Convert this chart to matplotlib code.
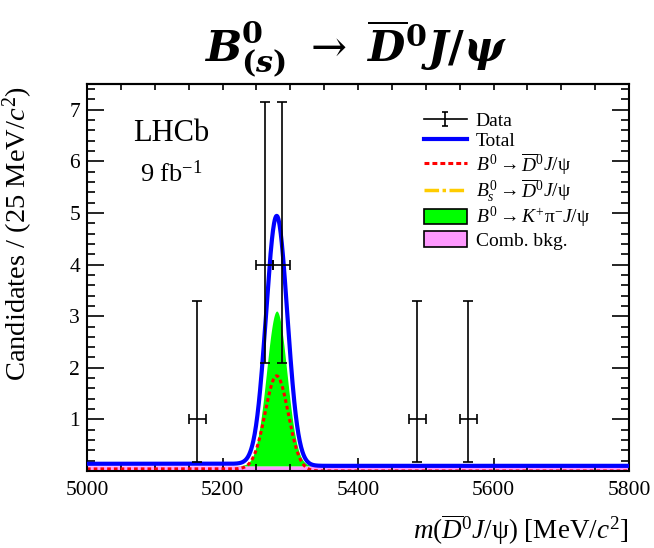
import numpy as np
import matplotlib
matplotlib.use("Agg")
import matplotlib.pyplot as plt
from matplotlib.lines import Line2D
from matplotlib.patches import Patch
from matplotlib.path import Path
from matplotlib.legend_handler import HandlerTuple
from matplotlib.ticker import MultipleLocator, FixedLocator

plt.rcParams["font.family"] = ["Liberation Serif", "DejaVu Serif"]
plt.rcParams["mathtext.fontset"] = "custom"
plt.rcParams["mathtext.rm"] = "Liberation Serif"
plt.rcParams["mathtext.it"] = "Liberation Serif:italic"
plt.rcParams["mathtext.bf"] = "Liberation Serif:bold"

# ---- binned data (25 MeV bins), only non-empty bins are drawn ----
bin_centers = [5162.5, 5262.5, 5287.5, 5487.5, 5562.5]
counts = [1, 4, 4, 1, 1]
err_low = [0.83, 1.91, 1.91, 0.83, 0.83]
err_high = [2.30, 3.16, 3.16, 2.30, 2.30]
bin_half_width = 12.5

# ---- fit model components ----
peak_mass = 5280.0
sig_height = 1.84       # B0 -> D0bar J/psi
sig_sigma = 17.0
sig_tail = 0.04         # low-mass tail of the B0 shape
bs_height = 0.0         # Bs0 -> D0bar J/psi
kpi_height = 3.0        # B0 -> K+ pi- J/psi
kpi_sigma = 15.0
comb_level = 0.10       # combinatorial background

mass = np.linspace(5000, 5800, 1601)


def gauss(x, h, mu, s):
    return h * np.exp(-0.5 * ((x - mu) / s) ** 2)


sig_curve = gauss(mass, sig_height, peak_mass, sig_sigma) + sig_tail / (1 + np.exp((mass - 5262) / 8))
bs_curve = gauss(mass, bs_height, 5366.9, sig_sigma)
kpi_curve = gauss(mass, kpi_height, peak_mass, kpi_sigma)
comb_curve = np.full_like(mass, comb_level)
total_curve = comb_curve + kpi_curve + sig_curve + bs_curve

W, H = 654, 548
fig = plt.figure(figsize=(W / 100, H / 100), dpi=100)
ax = fig.add_axes([87 / W, 1 - 471 / H, (629 - 87) / W, (471 - 84) / H])

c_pink = "#ff99ff"
c_green = "#00ff00"
c_blue = "#0000ff"
c_red = "#ff0000"
c_yellow = "#ffcc00"

ax.fill_between(mass, 0, comb_curve, color=c_pink, lw=0, zorder=1)
ax.fill_between(mass, comb_curve, comb_curve + kpi_curve, color=c_green, lw=0, zorder=1)
ax.plot(mass, bs_curve, color=c_yellow, lw=2.5, dashes=(4, 1, 1, 1), zorder=0.5)
ax.plot(mass, sig_curve, color=c_red, lw=2.2, dashes=(1.2, 1.0), zorder=2)
ax.plot(mass, total_curve, color=c_blue, lw=3.0, zorder=3)

ax.errorbar(bin_centers, counts, yerr=[err_low, err_high],
            xerr=bin_half_width, fmt="none", ecolor="black",
            elinewidth=1.2, capsize=3.5, capthick=1.2, zorder=5)

ax.set_xlim(5000, 5800)
ax.set_ylim(0, 7.5)

ax.xaxis.set_major_locator(MultipleLocator(200))
ax.xaxis.set_minor_locator(MultipleLocator(50))
ax.yaxis.set_major_locator(FixedLocator([1, 2, 3, 4, 5, 6, 7]))
ax.yaxis.set_minor_locator(MultipleLocator(0.2))

ax.tick_params(axis="both", which="both", direction="in", width=1.2,
               labelsize=15.5, colors="black")
ax.tick_params(axis="y", which="major", length=12, right=True, pad=5)
ax.tick_params(axis="y", which="minor", length=6, right=True)
ax.tick_params(axis="x", which="major", length=9.5, pad=7)
ax.tick_params(axis="x", which="minor", length=5)

top = ax.secondary_xaxis("top")
top.xaxis.set_major_locator(MultipleLocator(50))
top.tick_params(direction="in", length=4, width=1.2, labeltop=False)
top.spines["top"].set_linewidth(1.5)

for sp in ax.spines.values():
    sp.set_linewidth(1.5)

# experiment label
fig.text(171 / W, 1 - 141.5 / H, "LHCb", fontsize=22, ha="center", va="baseline")
fig.text(171 / W, 1 - 181.5 / H, r"9 fb$^{\mathrm{-1}}$", fontsize=19, ha="center", va="baseline")

# axis titles
fig.text(0.5 / W, 1 - 86 / H, r"Candidates / (25 MeV/$c^2$)", rotation=90,
         fontsize=20.5, ha="left", va="top")
fig.text(629 / W, 1 - 539 / H, r"$m(\overline{D}^0 J/\mathrm{\psi})$ [MeV/$c^2$]",
         fontsize=19.5, ha="right", va="baseline")

# decay title
title = fig.text(356 / W, 1 - 62 / H,
                 r"$\mathbfit{B}^{\mathbf{0}}_{\mathbf{(}\mathbfit{s}\mathbf{)}}\ \rightarrow\ "
                 r"\overline{\mathbfit{D}}^{\mathbf{0}}\mathbfit{J}\mathbf{/}\mathbfit{\psi}$",
                 fontsize=31, ha="center", va="baseline")
title.set_math_fontfamily("dejavuserif")

# legend handle for data points: horizontal bar with a capped vertical bar
ibeam = Path([(-0.4, 1), (0.4, 1), (0, 1), (0, -1), (-0.4, -1), (0.4, -1)],
             [Path.MOVETO, Path.LINETO, Path.MOVETO, Path.LINETO, Path.MOVETO, Path.LINETO])
data_handle = (Line2D([], [], color="black", lw=1.2),
               Line2D([], [], ls="none", marker=ibeam, markersize=10,
                      markeredgecolor="black", markeredgewidth=1.2))

handles = [
    data_handle,
    Line2D([], [], color=c_blue, lw=3.0),
    Line2D([], [], color=c_red, lw=2.2, dashes=(1.6, 1.0)),
    Line2D([], [], color=c_yellow, lw=2.5, dashes=(4.2, 1.0, 1.0, 1.0)),
    Patch(facecolor=c_green, edgecolor="black", lw=1.2),
    Patch(facecolor=c_pink, edgecolor="black", lw=1.2),
]
labels = [
    "Data",
    "Total",
    r"$B^0 \rightarrow \overline{D}^0 J/\mathrm{\psi}$",
    r"$B^0_s \rightarrow \overline{D}^0 J/\mathrm{\psi}$",
    r"$B^0 \rightarrow K^{+}\mathrm{\pi}^{-} J/\mathrm{\psi}$",
    "Comb. bkg.",
]
ax.legend(handles, labels, loc="upper left", bbox_to_anchor=(424 / W, 1 - 112 / H),
          bbox_transform=fig.transFigure, frameon=False, fontsize=14,
          handlelength=2.2, handleheight=0.85, handletextpad=0.45,
          labelspacing=0.05, borderpad=0, borderaxespad=0, numpoints=1,
          handler_map={tuple: HandlerTuple(ndivide=1)})

fig.savefig("out.png", dpi=100)
